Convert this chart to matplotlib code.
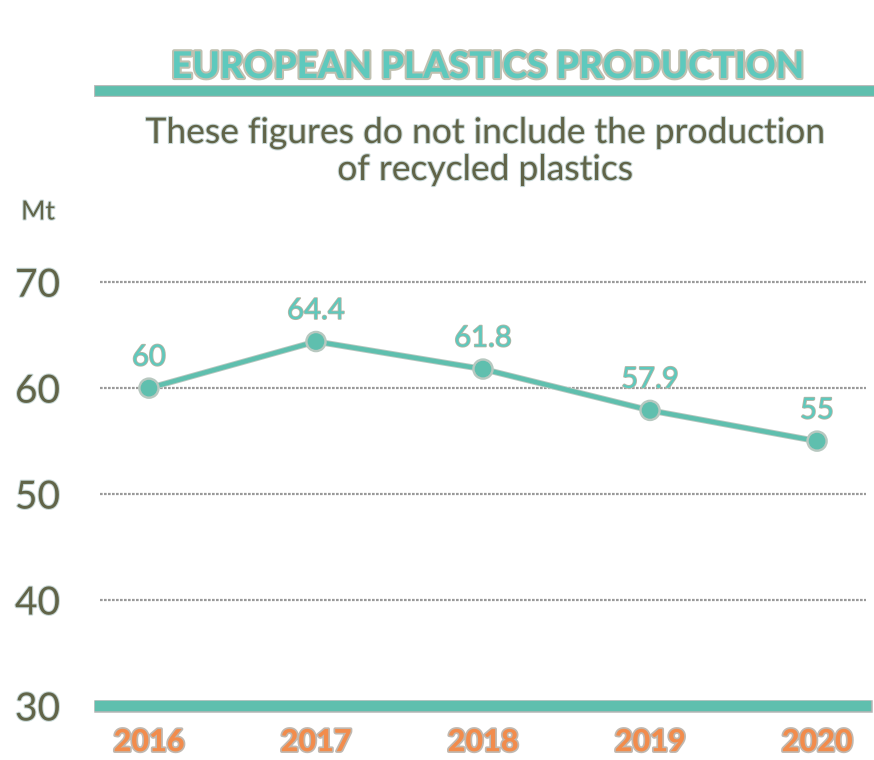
import matplotlib
matplotlib.use("Agg")
import matplotlib.pyplot as plt
import matplotlib.patheffects as pe
from matplotlib.lines import Line2D

years = ["2016", "2017", "2018", "2019", "2020"]
production = [60, 64.4, 61.8, 57.9, 55]
yticks = [30, 40, 50, 60, 70]

TEAL = "#5fbfae"
TEAL_TXT = "#5ec9bd"
ORANGE = "#f28c4c"
DARK = "#616448"

fig = plt.figure(figsize=(8.74, 7.6), dpi=100)
ax = fig.add_axes([100/874, 1-706/760, 766/874, (706-261)/760])

x = list(range(len(years)))
ax.plot(x, production, color=TEAL, lw=3.2, marker="o", ms=11, zorder=3,
        path_effects=[pe.Stroke(linewidth=4.5, foreground="#b8c8c0"), pe.Normal()])

halo = [pe.withStroke(linewidth=1.2, foreground="#b5b5a5")]
for xi, v in zip(x, production):
    ax.annotate(f"{v:g}", (xi, v), xytext=(0, 22), textcoords="offset points",
                ha="center", va="center", fontsize=21, color=TEAL_TXT,
                family="Lato", path_effects=halo, zorder=4)

ax.set_xlim(-0.293, 4.293)
ax.set_ylim(30, 72)
for yv in yticks[1:]:
    ax.axhline(yv, color="#9a9a9a", lw=1.6, ls=(0, (1.2, 0.6)), zorder=1)
ax.axhline(30, color=TEAL, lw=7.5, zorder=2, clip_on=False,
           path_effects=[pe.Stroke(linewidth=9, foreground="#b5b5b5"), pe.Normal()])

ax.set_xticks(x)
ax.set_xticklabels(years)
ax.set_yticks(yticks)
ax.set_yticklabels([str(t) for t in yticks])
ax.tick_params(length=0)
ax.tick_params(axis="x", pad=16)
for lab in ax.get_xticklabels():
    lab.set_fontsize(22)
    lab.set_fontweight("black")
    lab.set_family("Lato")
    lab.set_color(ORANGE)
    lab.set_path_effects([pe.withStroke(linewidth=2.5, foreground="#c0b8b0")])
for lab in ax.get_yticklabels():
    lab.set_fontsize(28)
    lab.set_family("Lato")
    lab.set_color(DARK)
    lab.set_ha("center")
    lab.set_va("center_baseline")
    lab.set_path_effects([pe.withStroke(linewidth=1.5, foreground="#c8d8d8")])
ax.yaxis.set_tick_params(pad=45)
for s in ax.spines.values():
    s.set_visible(False)

fig.text(38/874, 1-212/760, "Mt", ha="center", va="center", fontsize=19,
         color=DARK, family="Lato",
         path_effects=[pe.withStroke(linewidth=1.5, foreground="#c8d8d8")])

fig.text(487/874, 1-67/760, "EUROPEAN PLASTICS PRODUCTION", ha="center",
         va="center", fontsize=26.5, fontweight="black", family="Lato",
         color=TEAL_TXT,
         path_effects=[pe.withStroke(linewidth=3, foreground="#c0c0b0")])
fig.add_artist(Line2D([100/874, 1.0], [1-91/760, 1-91/760], color=TEAL, lw=7,
                      path_effects=[pe.Stroke(linewidth=8.5, foreground="#b5b5b5"), pe.Normal()]))

fig.text(485/874, 1-133/760, "These figures do not include the production",
         ha="center", va="center", fontsize=25.5, color=DARK, family="Lato",
         path_effects=[pe.withStroke(linewidth=1.5, foreground="#c8d8d8")])
fig.text(485/874, 1-170/760, "of recycled plastics",
         ha="center", va="center", fontsize=25.5, color=DARK, family="Lato",
         path_effects=[pe.withStroke(linewidth=1.5, foreground="#c8d8d8")])

fig.savefig("out.png", dpi=100, facecolor="white")
